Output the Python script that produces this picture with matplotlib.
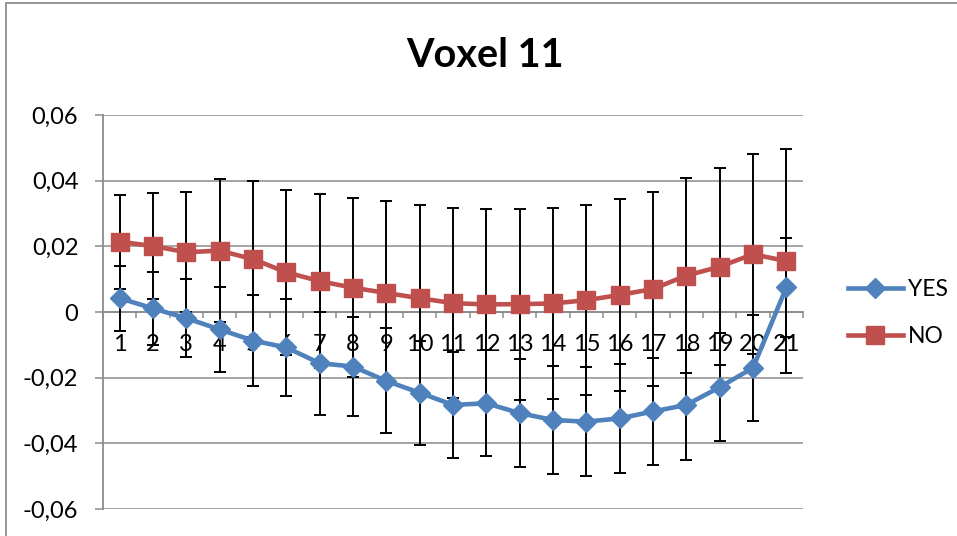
#!/usr/bin/env python
# -*- coding: utf-8 -*-

import sys
import matplotlib
matplotlib.use('Agg')
import matplotlib.pyplot as plt
import matplotlib.patches as patches

# mean signal per time point, with standard deviation
time_points = list(range(1, 22))
yes_vals = [0.0042, 0.0011, -0.0019, -0.0053, -0.0087, -0.0108, -0.0156, -0.0166, -0.0210, -0.0246, -0.0283,
            -0.0278, -0.0308, -0.0329, -0.0334, -0.0324, -0.0303, -0.0283, -0.0229, -0.0170, 0.0075]
yes_err = [0.0099, 0.0112, 0.0119, 0.0130, 0.0138, 0.0149, 0.0157, 0.0152, 0.0160, 0.0159, 0.0162,
           0.0162, 0.0165, 0.0164, 0.0165, 0.0167, 0.0163, 0.0168, 0.0165, 0.0161, 0.0151]
no_vals = [0.0214, 0.0201, 0.0182, 0.0187, 0.0161, 0.0121, 0.0094, 0.0074, 0.0058, 0.0042, 0.0027,
           0.0023, 0.0024, 0.0026, 0.0036, 0.0052, 0.0070, 0.0111, 0.0138, 0.0176, 0.0155]
no_err = [0.0143, 0.0162, 0.0183, 0.0218, 0.0237, 0.0252, 0.0265, 0.0273, 0.0281, 0.0284, 0.0289,
          0.0290, 0.0291, 0.0290, 0.0290, 0.0292, 0.0295, 0.0296, 0.0300, 0.0305, 0.0340]

y_ticks = [-0.06, -0.04, -0.02, 0.0, 0.02, 0.04, 0.06]
y_tick_labels = ['-0,06', '-0,04', '-0,02', '0', '0,02', '0,04', '0,06']

BLUE = '#4F81BD'
RED = '#C0504D'
GREY = '#8C8C8C'


def main():
    plt.rcParams['font.family'] = ['Lato', 'DejaVu Sans']

    fig = plt.figure(figsize=(9.57, 5.36), dpi=100)
    ax = fig.add_axes([0.1076, 0.0504, 0.7315, 0.735])

    # chart border
    fig.patches.append(patches.Rectangle((5.5 / 957, -0.1), 1.2, 1.1 - 3 / 536, transform=fig.transFigure,
                                         fill=False, edgecolor=GREY, linewidth=1.3))

    # error bars first, lines and markers on top
    ax.errorbar(time_points, yes_vals, yerr=yes_err, fmt='none', ecolor='black',
                elinewidth=1.4, capsize=4.3, capthick=1.4, zorder=3)
    ax.errorbar(time_points, no_vals, yerr=no_err, fmt='none', ecolor='black',
                elinewidth=1.4, capsize=4.3, capthick=1.4, zorder=3)

    ax.plot(time_points, yes_vals, color=BLUE, linewidth=3.3, marker='D', markersize=10.5,
            markeredgecolor=BLUE, label='YES', zorder=5)
    ax.plot(time_points, no_vals, color=RED, linewidth=3.3, marker='s', markersize=13,
            markeredgecolor=RED, label='NO', zorder=4)

    ax.set_xlim(0.5, 21.5)
    ax.set_ylim(-0.06, 0.06)

    # horizontal gridlines
    for v in y_ticks:
        ax.axhline(v, color=GREY, linewidth=1.1, zorder=1)

    for side in ['top', 'right']:
        ax.spines[side].set_visible(False)
    ax.spines['left'].set_color(GREY)
    ax.spines['left'].set_linewidth(1.3)
    ax.spines['bottom'].set_position(('data', 0))
    ax.spines['bottom'].set_color(GREY)
    ax.spines['bottom'].set_linewidth(1.3)

    ax.set_yticks(y_ticks)
    ax.set_yticklabels(y_tick_labels)
    ax.tick_params(axis='y', direction='out', length=5.8, width=1.1, color=GREY, pad=12, labelsize=17)

    # tick marks between categories, labels on the categories
    ax.set_xticks([t + 0.5 for t in [0] + time_points])
    ax.set_xticklabels([])
    ax.tick_params(axis='x', which='major', direction='out', length=4.5, width=1.1, color=GREY)
    ax.set_xticks(time_points, minor=True)
    ax.set_xticklabels([str(t) for t in time_points], minor=True)
    ax.tick_params(axis='x', which='minor', length=0, pad=16, labelsize=17)

    fig.text(0.507, 0.897, 'Voxel 11', ha='center', va='center', fontsize=28.5, fontweight='bold')

    fig.legend(loc='center left', bbox_to_anchor=(0.874, 0.416), frameon=False, fontsize=16.5,
               handlelength=2.4, handletextpad=0.22, labelspacing=1.1, borderpad=0)

    fig.savefig('out.png', dpi=100)
    return 0


if __name__ == '__main__':

    sys.exit(main())
